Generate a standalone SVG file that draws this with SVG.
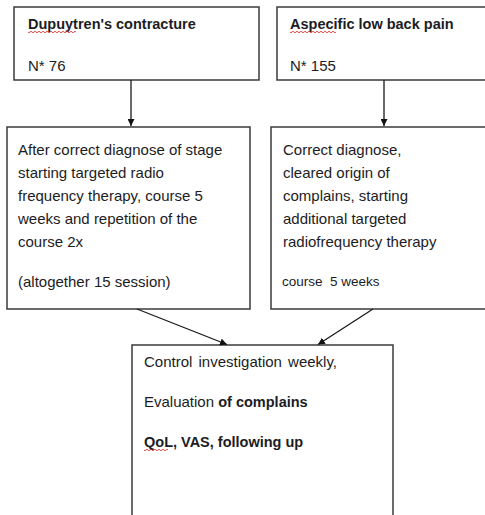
<svg xmlns="http://www.w3.org/2000/svg" width="485" height="515" viewBox="0 0 485 515">
<style>
.box{fill:#fff;stroke:#3a3a3a;stroke-width:1.5}
.t{font-family:"Liberation Sans",Arial,sans-serif;font-size:15px;fill:#1c1c24}
.b{font-weight:bold;font-size:14.5px}
.s{font-size:13.5px}
.c{stroke:#1a1a1a;stroke-width:1.3;fill:none}
.sq{stroke:#d02020;stroke-width:0.8;fill:none}
</style>
<defs>
<marker id="ah" viewBox="0 0 10 10" refX="10" refY="5" markerWidth="7" markerHeight="7" markerUnits="userSpaceOnUse" orient="auto">
<path d="M0,0 L10,5 L0,10 Z" fill="#111"/>
</marker>
</defs>
<rect width="485" height="515" fill="#fff"/>
<g id="n1">
<rect class="box" x="14" y="7" width="245" height="73"/>
<text class="t b" x="28" y="29">Dupuytren's contracture</text>
<path class="sq" d="M28,32 q1,1.5 2,0 t2,0 t2,0 t2,0 t2,0 t2,0 t2,0 t2,0 t2,0 t2,0 t2,0 t2,0 t2,0 t2,0 t2,0 t2,0 t2,0 t2,0 t2,0 t2,0 t2,0 t2,0 t2,0 t2,0"/>
<text class="t" x="28" y="71">N* 76</text>
</g>
<g id="n2">
<rect class="box" x="277" y="7" width="215" height="73"/>
<text class="t b" x="290" y="29">Aspecific low back pain</text>
<path class="sq" d="M290,32 q1,1.5 2,0 t2,0 t2,0 t2,0 t2,0 t2,0 t2,0 t2,0 t2,0 t2,0 t2,0 t2,0 t2,0 t2,0 t2,0 t2,0 t2,0 t2,0 t2,0 t2,0 t2,0 t2,0 t2,0"/>
<text class="t" x="290" y="71">N* 155</text>
</g>
<g id="n3">
<rect class="box" x="7" y="127" width="243" height="182"/>
<text class="t" x="18" y="155">After correct diagnose of stage</text>
<text class="t" x="18" y="178">starting targeted radio</text>
<text class="t" x="18" y="201">frequency therapy, course 5</text>
<text class="t" x="18" y="224">weeks and repetition of the</text>
<text class="t" x="18" y="247">course 2x</text>
<text class="t" x="18" y="287">(altogether 15 session)</text>
</g>
<g id="n4">
<rect class="box" x="271" y="127" width="221" height="182"/>
<text class="t" x="283" y="155">Correct diagnose,</text>
<text class="t" x="283" y="178">cleared origin of</text>
<text class="t" x="283" y="201">complains, starting</text>
<text class="t" x="283" y="224">additional targeted</text>
<text class="t" x="283" y="247">radiofrequency therapy</text>
<text class="t s" x="282" y="286">course&#160; 5 weeks</text>
</g>
<g id="n5">
<rect class="box" x="132" y="345" width="261" height="180"/>
<text class="t" x="144" y="367" word-spacing="2">Control investigation weekly,</text>
<text class="t" x="144" y="407">Evaluation <tspan class="b">of complains</tspan></text>
<text class="t b" x="144" y="447">QoL, VAS, following up</text>
<path class="sq" d="M144,450 q1,1.5 2,0 t2,0 t2,0 t2,0 t2,0 t2,0 t2,0 t2,0 t2,0 t2,0 t2,0 t2,0"/>
</g>
<g id="connectors">
<line class="c" x1="131" y1="80" x2="131" y2="126" marker-end="url(#ah)"/>
<line class="c" x1="384" y1="80" x2="384" y2="126" marker-end="url(#ah)"/>
<line class="c" x1="137" y1="309" x2="227" y2="344.5" marker-end="url(#ah)"/>
<line class="c" x1="373" y1="309" x2="318" y2="344.5" marker-end="url(#ah)"/>
</g>
</svg>
